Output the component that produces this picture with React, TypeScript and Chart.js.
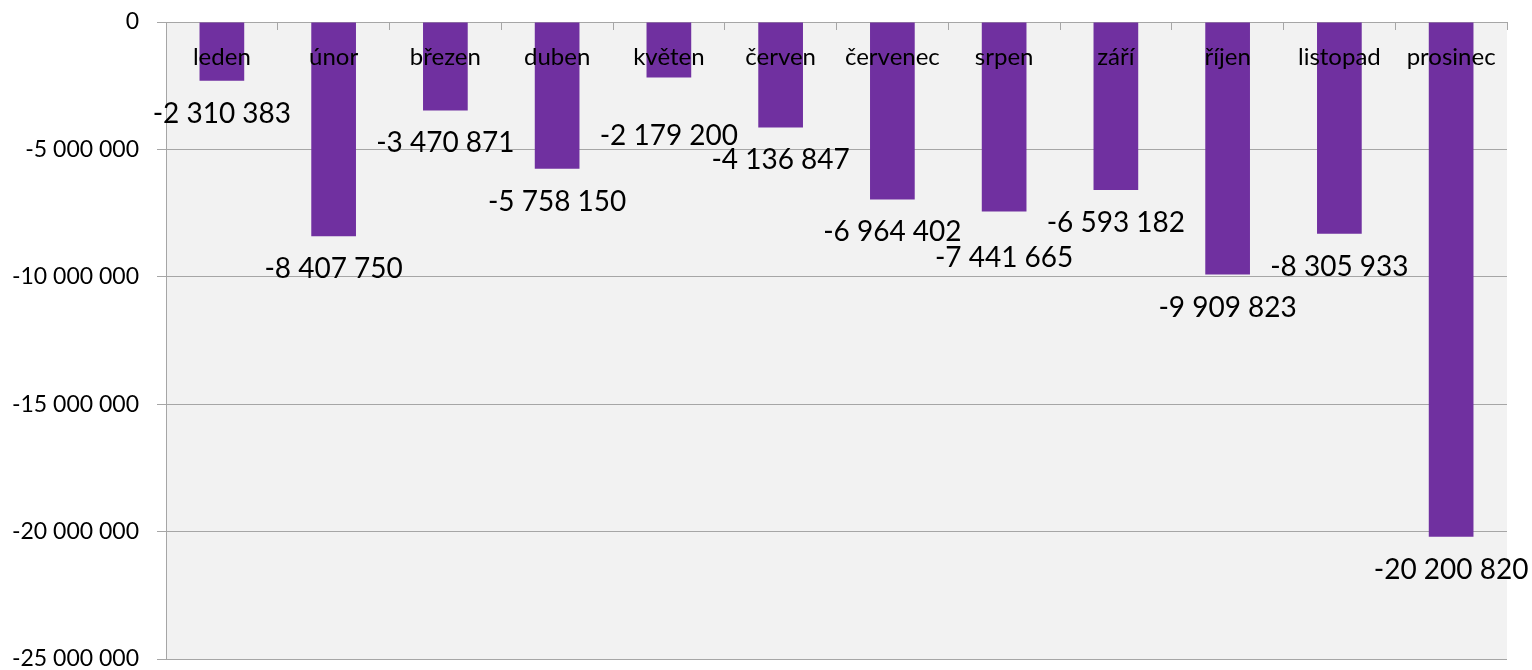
import React, { useEffect, useRef } from "react";
import { Chart, registerables } from "chart.js";

Chart.register(...registerables);

const months = ["leden", "únor", "březen", "duben", "květen", "červen", "červenec", "srpen", "září", "říjen", "listopad", "prosinec"];
const values = [-2310383, -8407750, -3470871, -5758150, -2179200, -4136847, -6964402, -7441665, -6593182, -9909823, -8305933, -20200820];
const yMin = -25000000;
const yMax = 0;
const yStep = 5000000;

// extra downward nudge for a few value labels (styling only)
const labelNudge = [0, 0, 0, 0, 25, 0, 0, 13, 0, 0, 0, 0];

const FONT = "Lato, 'Noto Sans', sans-serif";

function fmt(v: number): string {
  const s = Math.round(Math.abs(v)).toString().replace(/\B(?=(\d{3})+(?!\d))/g, " ");
  return v < 0 ? "-" + s : s;
}

const bgPlugin = {
  id: "plotBg",
  beforeDraw(chart: any) {
    const { ctx, chartArea } = chart;
    ctx.save();
    ctx.fillStyle = "#f2f2f2";
    ctx.fillRect(chartArea.left, chartArea.top, chartArea.right - chartArea.left, chartArea.bottom - chartArea.top);
    ctx.restore();
  },
};

const categoryLabelPlugin = {
  id: "categoryLabels",
  afterDatasetsDraw(chart: any) {
    const { ctx, chartArea } = chart;
    const xScale = chart.scales.x;
    ctx.save();
    ctx.font = `24px ${FONT}`;
    ctx.fillStyle = "#000000";
    ctx.textAlign = "center";
    ctx.textBaseline = "middle";
    (chart.data.labels as string[]).forEach((lab, i) => {
      ctx.fillText(lab, xScale.getPixelForValue(i), chartArea.top + 35);
    });
    ctx.restore();
  },
};

const valueLabelPlugin = {
  id: "valueLabels",
  afterDatasetsDraw(chart: any) {
    const { ctx } = chart;
    const meta = chart.getDatasetMeta(0);
    ctx.save();
    ctx.font = `28px ${FONT}`;
    ctx.fillStyle = "#000000";
    ctx.textAlign = "center";
    ctx.textBaseline = "middle";
    meta.data.forEach((el: any, i: number) => {
      const v = chart.data.datasets[0].data[i] as number;
      ctx.fillText(fmt(v), el.x, el.y + 33 + (labelNudge[i] || 0));
    });
    ctx.restore();
  },
};

export default function App() {
  const ref = useRef<HTMLCanvasElement | null>(null);

  useEffect(() => {
    if (!ref.current) return;
    const chart = new Chart(ref.current, {
      type: "bar",
      data: {
        labels: months,
        datasets: [
          {
            data: values,
            backgroundColor: "#7030a0",
            borderWidth: 0,
            categoryPercentage: 0.4,
            barPercentage: 1,
          },
        ],
      },
      options: {
        responsive: false,
        animation: false,
        layout: { padding: { left: 0, top: 0, right: 25, bottom: 11 } },
        plugins: {
          legend: { display: false },
          tooltip: { enabled: false },
          title: { display: false },
        },
        scales: {
          x: {
            position: "top",
            grid: {
              drawOnChartArea: false,
              drawTicks: true,
              tickLength: -8,
              color: "#a6a6a6",
              offset: true,
            },
            border: { display: true, color: "#a6a6a6" },
            ticks: { display: false },
            afterFit(scale: any) {
              scale.height = 22;
            },
          },
          y: {
            min: yMin,
            max: yMax,
            grid: {
              color: "#a6a6a6",
              tickLength: 9,
            },
            border: { display: true, color: "#a6a6a6" },
            ticks: {
              stepSize: yStep,
              padding: 18,
              color: "#000000",
              font: { family: FONT, size: 23 },
              callback: (v: any) => fmt(Number(v)),
            },
            afterFit(scale: any) {
              scale.width = 166;
              scale.paddingTop = 0;
              scale.paddingBottom = 0;
            },
          },
        },
      },
      plugins: [bgPlugin, categoryLabelPlugin, valueLabelPlugin],
    });
    return () => chart.destroy();
  }, []);

  return (
    <div style={{ position: "fixed", left: 0, top: 0, width: 1532, height: 670, background: "#ffffff" }}>
      <canvas ref={ref} width={1532} height={670} style={{ display: "block" }} />
    </div>
  );
}
